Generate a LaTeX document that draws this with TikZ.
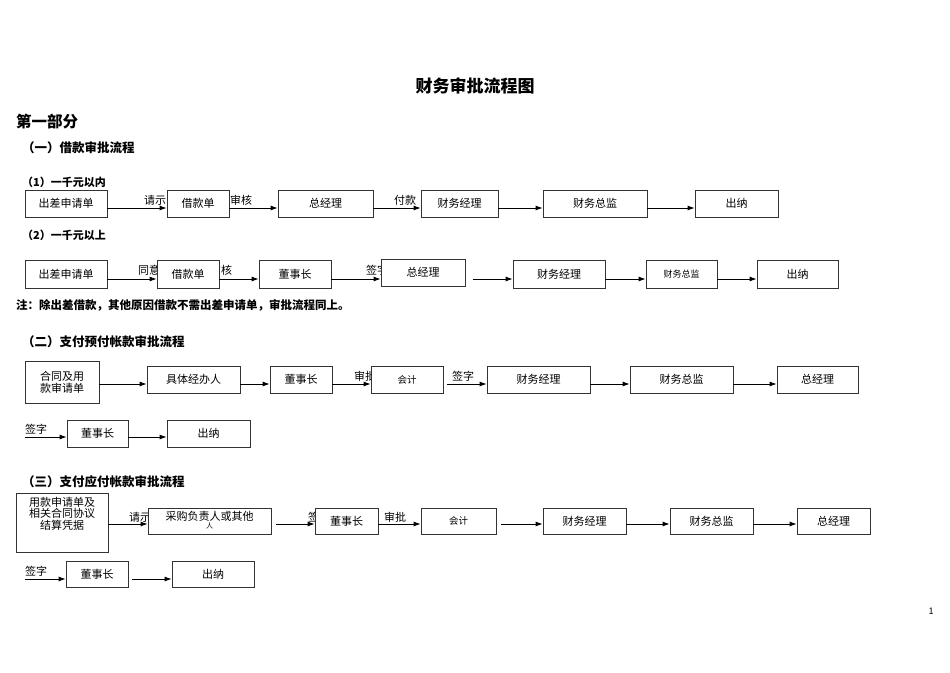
\documentclass[tikz,border=0pt]{standalone}
\usepackage{fontspec}
\setmainfont{Noto Sans CJK SC}
\usetikzlibrary{arrows.meta,calc}
\tikzset{
 box/.style={draw=black!80,fill=white,line width=0.8pt,inner sep=1pt,font=\fontsize{11}{12}\selectfont,align=center},
 arr/.style={line width=0.8pt,-{Latex[length=7pt,width=5pt]}},
 lbl/.style={font=\fontsize{11}{12}\selectfont,anchor=base west,inner sep=0pt},
 head/.style={font=\fontsize{12.5}{14}\selectfont\bfseries,anchor=base west,inner sep=0pt},
}
\newcommand{\bx}[6]{\node[box,minimum width={#4-#2},minimum height={#5-#3}] (#1) at ({(#2+#4)/2},{(#3+#5)/2}) {#6};}
\newcommand{\ar}[3]{\draw[arr] ([yshift={-#3}]#1.east) -- ([yshift={-#3}]#1.east -| #2.west);}
\begin{document}
\begin{tikzpicture}[x=1pt,y=-1pt]
\useasboundingbox (0,0) rectangle (950,672);
\node[font=\fontsize{17}{20}\selectfont\bfseries] (title) at (475,86) {财务审批流程图};
\node[font=\fontsize{15.5}{18}\selectfont\bfseries,anchor=base west,inner sep=0pt] (p1) at (16,127) {第一部分};
\node[head] (s1) at (22,152) {（一）借款审批流程};
\node[head,font=\fontsize{11}{12}\selectfont\bfseries] (r1) at (22,186) {（1）一千元以内};
\node[head,font=\fontsize{11}{12}\selectfont\bfseries] (r2) at (22,239) {（2）一千元以上};
% row 1 labels
\node[lbl] (l1a) at (144,204) {请示};
\node[lbl] (l1b) at (230,204) {审核};
\node[lbl] (l1c) at (394,204) {付款};
\bx{a1}{25}{190}{107}{217}{出差申请单}
\bx{a2}{167}{190}{229}{217}{借款单}
\bx{a3}{278}{190}{373}{217}{总经理}
\bx{a4}{421}{190}{498}{217}{财务经理}
\bx{a5}{543}{190}{647}{217}{财务总监}
\bx{a6}{695}{190}{778}{217}{出纳}
\ar{a1}{a2}{4.5}\ar{a2}{a3}{4.5}\ar{a3}{a4}{4.5}\ar{a4}{a5}{4.5}\ar{a5}{a6}{4.5}
% row 2
\node[lbl] (l2a) at (138,274) {同意};
\node[lbl] (l2b) at (210,274) {审核};
\node[lbl] (l2c) at (366,274) {签字};
\bx{b1}{25}{260}{107}{288}{出差申请单}
\bx{b2}{157}{260}{219}{288}{借款单}
\bx{b3}{259}{260}{331}{288}{董事长}
\bx{b4}{381}{259}{465}{286}{总经理}
\bx{b5}{513}{260}{605}{288}{财务经理}
\bx{b6}{646}{260}{717}{288}{\fontsize{9}{10}\selectfont 财务总监}
\bx{b7}{757}{260}{838}{288}{出纳}
\ar{b1}{b2}{5}\ar{b2}{b3}{5}\ar{b3}{b4}{5}
\coordinate (b4o) at (473,279);
\draw[arr] (b4o) -- (b4o -| b5.west);
\ar{b5}{b6}{5}\ar{b6}{b7}{5}
\node[head,font=\fontsize{11.5}{13}\selectfont\bfseries] (note) at (16,309) {注：除出差借款，其他原因借款不需出差申请单，审批流程同上。};
% section 2
\node[head] (s2) at (22,346) {（二）支付预付帐款审批流程};
\node[lbl] (l3a) at (354,380) {审批};
\node[lbl] (l3b) at (452,380) {签字};
\bx{c1}{25}{361}{99}{403}{合同及用\\款审请单}
\bx{c2}{147}{366}{240}{393}{具体经办人}
\bx{c3}{270}{366}{332}{393}{董事长}
\bx{c4}{371}{366}{443}{393}{\fontsize{9.5}{10}\selectfont 会计}
\bx{c5}{487}{366}{590}{393}{财务经理}
\bx{c6}{630}{366}{733}{393}{财务总监}
\bx{c7}{777}{366}{858}{393}{总经理}
\coordinate (c1o) at (99,384);
\draw[arr] (c1o) -- (c1o -| c2.west);
\ar{c2}{c3}{4.5}\ar{c3}{c4}{4.5}
\coordinate (c4o) at (447,384);
\draw[arr] (c4o) -- (c4o -| c5.west);
\ar{c5}{c6}{4.5}\ar{c6}{c7}{4.5}
\node[lbl] (l4a) at (25,433) {签字};
\bx{d1}{67}{420}{128}{447}{董事长}
\bx{d2}{167}{420}{250}{447}{出纳}
\coordinate (d0) at (25,437);
\draw[arr] (d0) -- (d0 -| d1.west);
\ar{d1}{d2}{3.5}
% section 3
\node[head] (s3) at (22,486) {（三）支付应付帐款审批流程};
\node[lbl] (l5a) at (129,521) {请示};
\node[lbl] (l5b) at (308,521) {签字};
\node[lbl] (l5c) at (384,521) {审批};
\bx{e1}{16}{493}{108}{552}{\raisebox{0pt}{}}
\node[font=\fontsize{11}{11.5}\selectfont,align=center,anchor=north,inner sep=0pt] (e1t) at (62,497) {用款申请单及\\相关合同协议\\结算凭据};
\bx{e2}{148}{508}{271}{534}{}
\node[font=\fontsize{11}{11}\selectfont,align=center,anchor=north,inner sep=0pt] (e2t) at (209.5,511) {采购负责人或其他\\[-3pt]{\fontsize{7}{7}\selectfont 人}};
\bx{e3}{315}{508}{378}{534}{董事长}
\bx{e4}{421}{508}{496}{534}{\fontsize{9.5}{10}\selectfont 会计}
\bx{e5}{543}{508}{626}{534}{财务经理}
\bx{e6}{670}{508}{753}{534}{财务总监}
\bx{e7}{797}{508}{870}{534}{总经理}
\coordinate (e1o) at (108,524);
\draw[arr] (e1o) -- (e1o -| e2.west);
\coordinate (e2o) at (276,524);
\draw[arr] (e2o) -- (e2o -| e3.west);
\ar{e3}{e4}{3}
\coordinate (e4o) at (501,524);
\draw[arr] (e4o) -- (e4o -| e5.west);
\ar{e5}{e6}{3}\ar{e6}{e7}{3}
\node[lbl] (l6a) at (25,575) {签字};
\bx{f1}{66}{561}{128}{587}{董事长}
\bx{f2}{172}{561}{254}{587}{出纳}
\coordinate (f0) at (25,579);
\draw[arr] (f0) -- (f0 -| f1.west);
\coordinate (f1o) at (132,579);
\draw[arr] (f1o) -- (f1o -| f2.west);
\node[font=\fontsize{9}{10}\selectfont] (pg) at (931,611) {1};
\end{tikzpicture}
\end{document}
